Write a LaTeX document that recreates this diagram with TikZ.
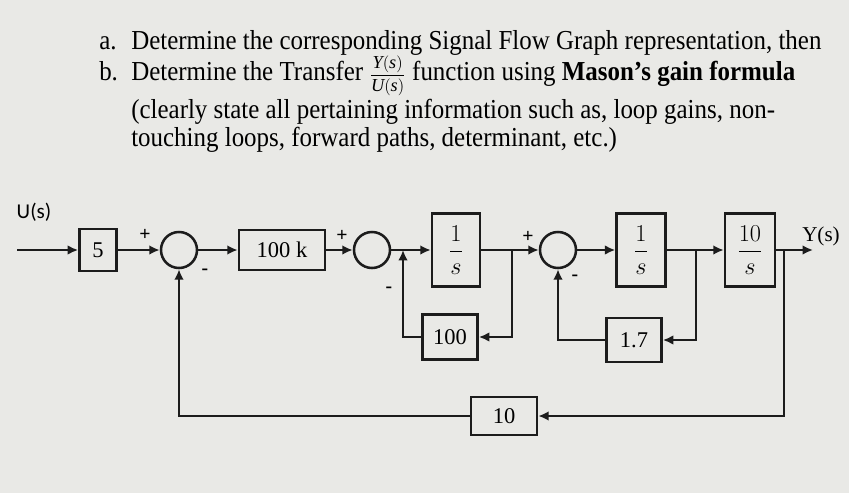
\documentclass[tikz,border=0pt]{standalone}
\usepackage{fontspec}
\setmainfont{Liberation Serif}
\newfontfamily\qfont{Liberation Serif}[FakeStretch=0.91]
\newfontfamily\sansl{Carlito}
\usepackage{amsmath}
\usetikzlibrary{arrows.meta}
\definecolor{paper}{RGB}{233,233,230}
\definecolor{ink}{RGB}{28,28,28}
\tikzset{
  blk/.style={draw=ink,line width=1.8pt,inner sep=0pt,font=\fontsize{16}{18}\selectfont},
  sumj/.style={draw=ink,circle,line width=1.8pt,minimum size=0.9cm,inner sep=0pt},
  sig/.style={font=\fontsize{14}{16}\selectfont\bfseries},
  qline/.style={anchor=base west,inner sep=0pt,font=\qfont\fontsize{19.5}{22}\selectfont},
  arr/.style={-{Latex[length=2.6mm,width=2.4mm]}}
}
\begin{document}
\begin{tikzpicture}[x=0.025cm,y=-0.025cm,line width=1.8pt,draw=ink]
\fill[paper] (0,0) rectangle (849,493);
\useasboundingbox (0,0) rectangle (849,493);
% question text
\node[qline] (qa) at (98,50) {\makebox[0.8cm][l]{a.}Determine the corresponding Signal Flow Graph representation, then};
\node[qline] (qb) at (98,80) {\makebox[0.8cm][l]{b.}Determine the Transfer {\fontsize{13}{15}\selectfont$\dfrac{\mathit{Y(s)}}{\mathit{U(s)}}$} function using \textbf{Mason’s gain formula}};
\node[qline] (qc) at (130,118) {(clearly state all pertaining information such as, loop gains, non-};
\node[qline] (qd) at (130,146) {touching loops, forward paths, determinant, etc.)};
% blocks
\node[font=\sansl\fontsize{15}{17}\selectfont] (ulab) at (34,212) {U(s)};
\node[font=\fontsize{15}{17}\selectfont] (ylab) at (821,236) {Y(s)};
\coordinate (uin) at (17,250);
\node[blk,minimum width=0.93cm,minimum height=1.05cm] (b5) at (98,250) {5};
\node[sumj] (s1) at (179,250) {};
\node[blk,minimum width=2.15cm,minimum height=1.0cm] (b100k) at (282,250) {100 k};
\node[sumj] (s2) at (372,250) {};
\node[blk,minimum width=1.2cm,minimum height=1.83cm] (g1) at (456,250) {$\dfrac{1}{s}$};
\node[sumj] (s3) at (558,250) {};
\node[blk,minimum width=1.22cm,minimum height=1.83cm] (g2) at (641,250) {$\dfrac{1}{s}$};
\node[blk,minimum width=1.25cm,minimum height=1.83cm] (g3) at (750,250) {$\dfrac{10}{s}$};
\coordinate (yout) at (813,250);
\node[blk,minimum width=1.38cm,minimum height=1.12cm] (h1) at (450,337) {100};
\node[blk,minimum width=1.38cm,minimum height=1.1cm] (h2) at (634,340) {1.7};
\node[blk,minimum width=1.65cm,minimum height=0.95cm] (h3) at (504,416) {10};
% signs
\node[sig] (p1) at (145,235) {+};
\node[sig] (m1) at (205,272) {-};
\node[sig] (p2) at (342,236) {+};
\node[sig] (m2) at (389,290) {-};
\node[sig] (p3) at (528,237) {+};
\node[sig] (m3) at (575,278) {-};
% forward path
\draw[arr] (uin) -- (b5);
\draw[arr] (b5) -- (s1);
\draw[arr] (s1) -- (b100k);
\draw[arr] (b100k) -- (s2);
\draw[arr] (s2) -- (g1);
\draw[arr] (g1) -- (s3);
\draw[arr] (s3) -- (g2);
\draw[arr] (g2) -- (g3);
\draw[arr] (g3) -- (yout);
% feedback loops
\coordinate (k1) at (512,250);
\coordinate (k2) at (696,250);
\coordinate (k3) at (784,250);
\coordinate (t1) at (403,250);
\draw[arr] (k1) |- (h1.east);
\draw[arr] (h1.west) -| (t1);
\draw[arr] (k2) |- (h2.east);
\draw[arr] (h2.west) -| (s3.south);
\draw[arr] (k3) |- (h3.east);
\draw[arr] (h3.west) -| (s1.south);
\end{tikzpicture}
\end{document}
